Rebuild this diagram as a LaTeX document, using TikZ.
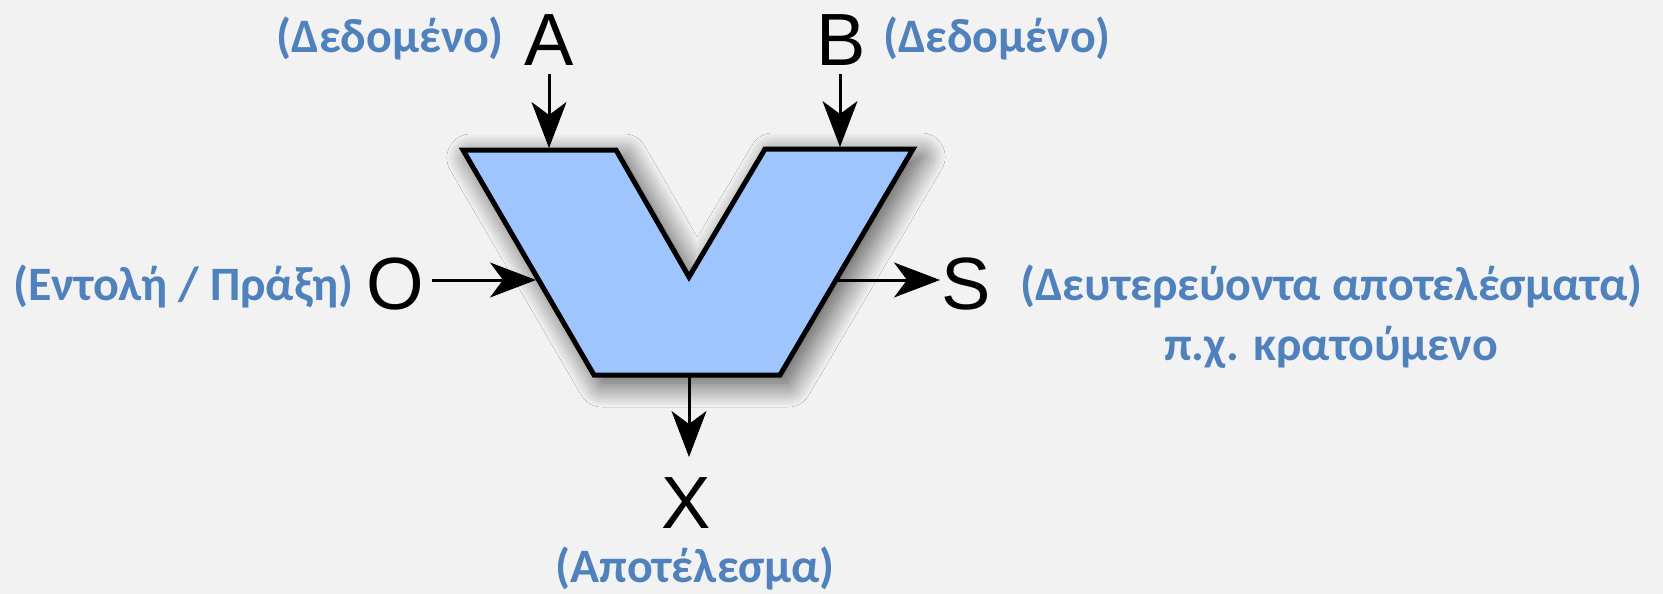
\documentclass[tikz,border=0pt]{standalone}
\usepackage{fontspec}
\setmainfont{Liberation Sans}
\newfontfamily\calib{Carlito}
\usetikzlibrary{arrows.meta,shadows.blur}
\definecolor{bgcol}{RGB}{242,242,242}
\definecolor{alufill}{RGB}{159,197,255}
\definecolor{lbl}{RGB}{79,129,189}
\begin{document}
\begin{tikzpicture}[x=1pt,y=-1pt,
  port/.style={font=\fontsize{74}{74}\selectfont, inner sep=0pt, outer sep=8pt},
  note/.style={font=\calib\bfseries\fontsize{48}{58}\selectfont, text=lbl, inner sep=0pt},
  arr/.style={line width=3pt, -{Stealth[length=46pt,width=35pt,inset=13pt,fill=black,line width=1pt]}},
  alu/.style={line width=5pt, fill=alufill, line join=miter,
    blur shadow={shadow xshift=8pt, shadow yshift=-8pt, shadow blur radius=24pt, shadow blur steps=40, shadow opacity=70}}]
\fill[bgcol] (0,0) rectangle (1663,594);
\useasboundingbox (0,0) rectangle (1663,594);
% ALU body
\draw[alu] (463,150) -- (616,150) -- (689,277) -- (765,149) -- (913,149) -- (780,375) -- (594,375) -- cycle;
\coordinate (ain) at (549,148);
\coordinate (bin) at (840,147);
\coordinate (oin) at (536,280);
\coordinate (sout) at (836,280);
\coordinate (xout) at (689,377);
\coordinate (send) at (940,280);
\coordinate (xend) at (689,457);
% port letters
\node[port, anchor=base] (A) at (549,66) {A};
\node[port, anchor=base] (B) at (841,66) {B};
\node[port, anchor=base] (O) at (395,309) {O};
\node[port, anchor=base] (S) at (966,309) {S};
\node[port, anchor=base] (X) at (686,528) {X};
% arrows
\draw[arr] (A.south -| ain) -- (ain);
\draw[arr] (B.south -| bin) -- (bin);
\draw[arr] (O.east |- oin) -- (oin);
\draw[arr] (sout) -- (send);
\draw[arr] (xout) -- (xend);
% labels
\node[note, anchor=base east] (la) at (504,53) {(Δεδομένο)};
\node[note, anchor=base west] (lb) at (883,53) {(Δεδομένο)};
\node[note, anchor=base west] (lo) at (13,300) {(Εντολή / Πράξη)};
\node[note, anchor=base west] (ls) at (1020,300) {(Δευτερεύοντα αποτελέσματα)};
\node[note, anchor=base] (ls2) at (1331,360) {π.χ. κρατούμενο};
\node[note, anchor=base] (lx) at (695,582) {(Αποτέλεσμα)};
\end{tikzpicture}
\end{document}
